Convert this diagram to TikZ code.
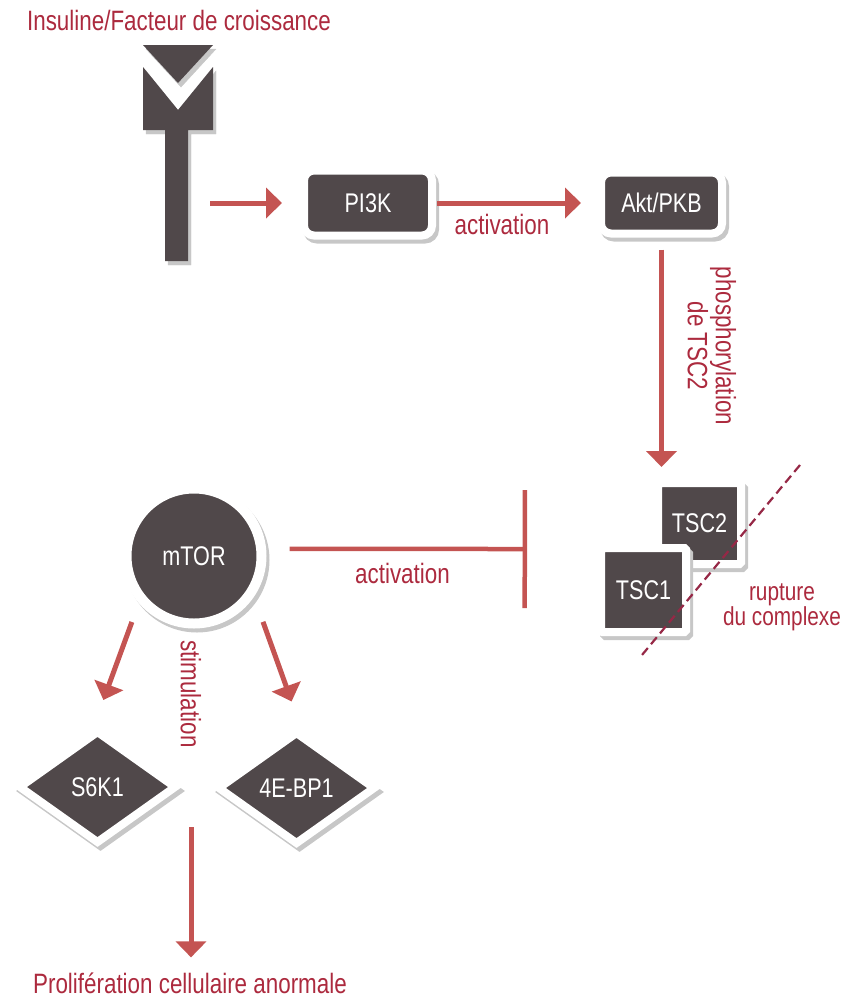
\documentclass[tikz,border=0pt]{standalone}
\usepackage{fontspec}
\setmainfont[FakeStretch=0.8]{Liberation Sans}
\usetikzlibrary{arrows.meta,shapes.geometric,shadows}
\definecolor{boxc}{RGB}{80,72,74}
\definecolor{txtred}{RGB}{172,42,62}
\definecolor{arrc}{RGB}{196,84,82}
\definecolor{dashc}{RGB}{150,40,70}
\tikzset{
  shad/.style={drop shadow={shadow xshift=3pt, shadow yshift=-4pt, opacity=1, fill=black!22, draw=black!22}},
  lbl/.style={text=white, font=\fontsize{27}{27}\selectfont, inner sep=0pt, outer sep=0pt},
  rbox/.style={lbl, fill=boxc, draw=white, line width=8pt, rounded corners=10pt, shad},
  sqbox/.style={lbl, fill=boxc, draw=white, line width=8pt, rounded corners=1.5pt, shad},
  circbox/.style={lbl, circle, fill=boxc, draw=white, line width=10pt, minimum size=135pt, shad},
  diabox/.style={lbl, diamond, fill=boxc, draw=white, line width=8pt, minimum width=155pt, minimum height=110pt, shad},
  redtxt/.style={text=txtred, font=\fontsize{28}{28}\selectfont, inner sep=0pt, outer sep=0pt},
  arr/.style={draw=arrc, line width=5pt, -{Triangle[width=30pt,length=16pt]}},
  inh/.style={draw=arrc, line width=4.5pt, -{Bar[width=118pt]}},
  dashln/.style={draw=dashc, line width=2.2pt, dash pattern=on 9pt off 5pt},
}
\begin{document}
\begin{tikzpicture}[x=1pt,y=-1pt]
\useasboundingbox (0,0) rectangle (846,999);
% title
\node[redtxt, anchor=base] (title) at (179,30.5) {Insuline/Facteur de croissance};
% receptor
\fill[boxc, shad] (143,45) -- (213,45) -- (178,83) -- cycle;
\fill[boxc, shad] (143,67) -- (178,110) -- (213,67) -- (213,130) -- (188,130) -- (188,261) -- (165,261) -- (165,130) -- (143,130) -- cycle;
\coordinate (rec) at (188,203);
% boxes
\node[rbox, minimum width=128pt, minimum height=65pt] (pi3k) at (368,203) {PI3K};
\node[rbox, minimum width=121pt, minimum height=61pt] (akt) at (661.5,203) {Akt/PKB};
\node[sqbox, minimum width=83pt, minimum height=81pt] (tsc2) at (699.5,523.5) {TSC2};
\node[sqbox, minimum width=85pt, minimum height=84pt] (tsc1) at (643.5,590) {TSC1};
\node[circbox] (mtor) at (194,556) {mTOR};
\node[diabox] (s6k1) at (97.5,787) {S6K1};
\node[diabox] (febp) at (296.5,788) {4E-BP1};
% dashed rupture line
\draw[dashln] (800,465) -- (642,655);
% labels
\node[redtxt, anchor=base] (act1) at (502,234) {activation};
\node[redtxt, anchor=base] (act2) at (402.5,583) {activation};
\node[redtxt, rotate=-90, align=center] (phos) at (712,346) {phosphorylation\\de TSC2};
\node[redtxt, font=\fontsize{26}{22}\selectfont, align=center] (rupt) at (782,607) {rupture\\du complexe};
\node[redtxt, rotate=-90] (stim) at (191,694) {stimulation};
\node[redtxt, anchor=base] (prolif) at (190,993) {Prolifération cellulaire anormale};
\coordinate (bar) at (527,549);
\coordinate (prolifsrc) at (191,827);
% connectors
\draw[arr, shorten <=22pt, shorten >=22pt] (rec) -- (pi3k.west);
\draw[arr, shorten <=5pt, shorten >=20pt] (pi3k.east) -- (akt.west);
\draw[arr, shorten <=16pt, shorten >=16pt] (akt.south) -- (akt.south |- tsc2.north);
\draw[inh, shorten <=28.5pt] (mtor.6) -- (bar);
\draw[arr, shorten <=26pt, shorten >=40pt] (mtor.218) -- (s6k1.99);
\draw[arr, shorten <=33pt, shorten >=40pt] (mtor.329) -- (febp.80);
\draw[arr, shorten >=15pt] (prolifsrc) -- (prolifsrc |- prolif.north);
\end{tikzpicture}
\end{document}
